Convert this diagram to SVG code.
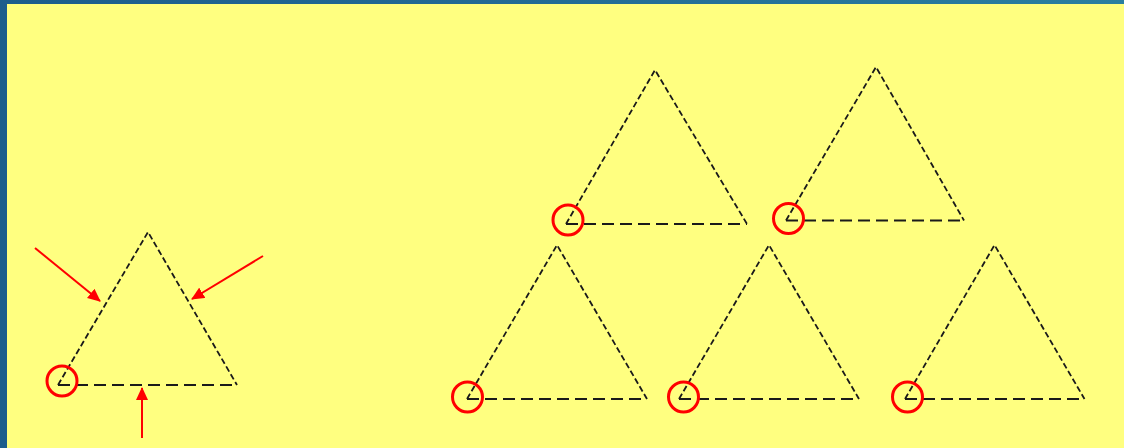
<svg xmlns="http://www.w3.org/2000/svg" width="1124" height="448" viewBox="0 0 1124 448">
<defs>
<linearGradient id="bg" x1="0" y1="0" x2="1" y2="0">
<stop offset="0" stop-color="#1d5d8c"/>
<stop offset="0.5" stop-color="#236c95"/>
<stop offset="1" stop-color="#2a7fa0"/>
</linearGradient>
<marker id="ah" viewBox="0 0 13 12" refX="12" refY="6" markerWidth="6.5" markerHeight="6" orient="auto" markerUnits="strokeWidth">
<path d="M0,0 L13,6 L0,12 z" fill="#ff0000"/>
</marker>
<style>
.side{fill:none;stroke:#1a1a1a;stroke-width:1.8;stroke-dasharray:6 3}
.base{fill:none;stroke:#1a1a1a;stroke-width:2;stroke-dasharray:12 6}
.mark{fill:none;stroke:#ff0000;stroke-width:3}
.arrow{fill:none;stroke:#ff0000;stroke-width:2;marker-end:url(#ah)}
</style>
</defs>
<rect x="0" y="0" width="1124" height="448" fill="url(#bg)"/>
<rect x="7" y="4" width="1117" height="444" fill="#ffff80"/>

<g id="tri0">
<path class="side" d="M58,385 L148,232 L237,385"/>
<path class="base" d="M58,385 L237,385"/>
<circle class="mark" cx="62" cy="381" r="15"/>
</g>
<g id="tri1">
<path class="side" d="M566,224 L655,70 L747,224"/>
<path class="base" d="M566,224 L747,224"/>
<circle class="mark" cx="568" cy="220" r="15"/>
</g>
<g id="tri2">
<path class="side" d="M786,220.5 L876,67 L964,220.5"/>
<path class="base" d="M786,220.5 L964,220.5"/>
<circle class="mark" cx="788.5" cy="218.5" r="15"/>
</g>
<g id="tri3">
<path class="side" d="M467,399 L557,245 L647,399"/>
<path class="base" d="M467,399 L647,399"/>
<circle class="mark" cx="467.5" cy="397" r="15"/>
</g>
<g id="tri4">
<path class="side" d="M679,399 L769,245 L859,399"/>
<path class="base" d="M679,399 L859,399"/>
<circle class="mark" cx="683.5" cy="397" r="15"/>
</g>
<g id="tri5">
<path class="side" d="M905,399 L994.5,245 L1084.5,399"/>
<path class="base" d="M905,399 L1084.5,399"/>
<circle class="mark" cx="907.5" cy="397" r="15"/>
</g>

<g id="connectors">
<line class="arrow" x1="35" y1="248" x2="100" y2="301"/>
<line class="arrow" x1="263" y1="256" x2="192" y2="299"/>
<line class="arrow" x1="142" y1="438" x2="142" y2="388"/>
</g>
</svg>
